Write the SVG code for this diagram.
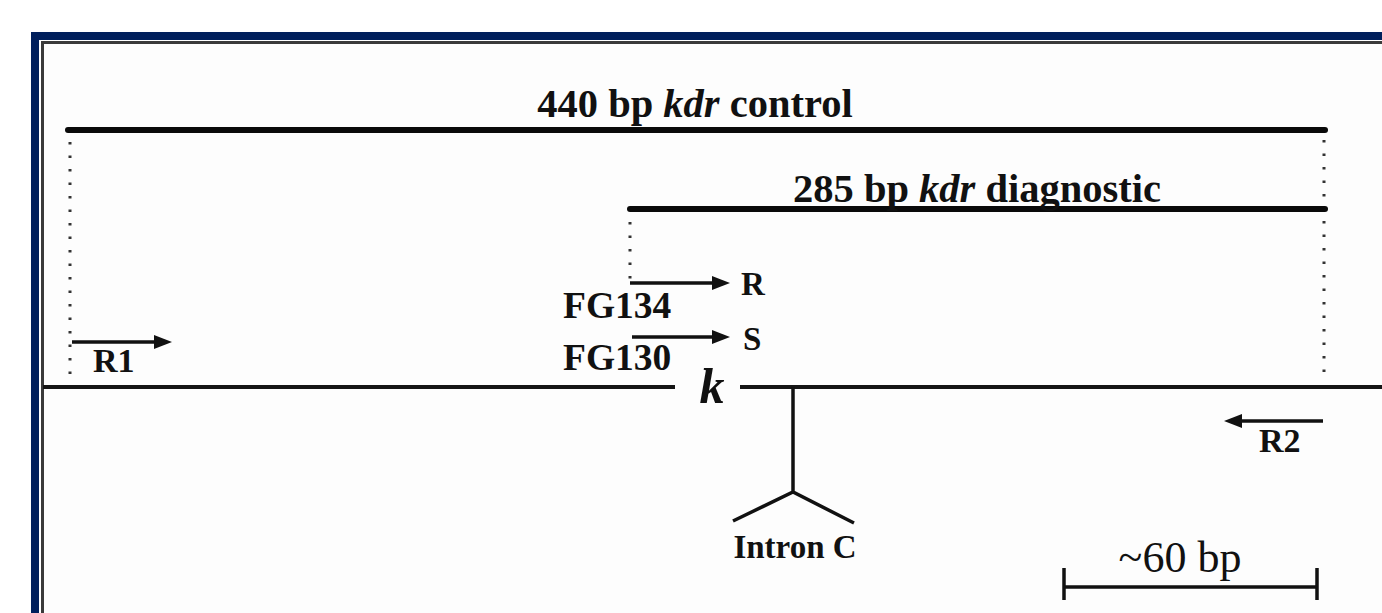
<svg xmlns="http://www.w3.org/2000/svg" width="1382" height="613" viewBox="0 0 1382 613">
<style>
.t{font-family:"Liberation Serif","Times New Roman",serif;font-weight:bold;fill:#111}
.r{font-family:"Liberation Serif","Times New Roman",serif;fill:#111}
.bar{stroke:#0a0a0a;stroke-width:6;stroke-linecap:round;fill:none}
.ln{stroke:#151515;stroke-width:4;fill:none}
.dot{stroke:#333;stroke-width:3;stroke-dasharray:2.5 11;fill:none}
.ar{stroke:#111;stroke-width:3.5;fill:none}
</style>
<defs>
<marker id="ah" markerUnits="userSpaceOnUse" markerWidth="20" markerHeight="16" refX="2" refY="8" orient="auto">
<path d="M0,1 L18,8 L0,15 Z" fill="#111"/>
</marker>
</defs>
<rect x="0" y="0" width="1382" height="613" fill="#ffffff"/>
<g id="frame">
<rect x="31" y="32" width="1360" height="600" fill="#001f5c"/>
<rect x="39" y="40" width="1350" height="590" fill="#ffffff"/>
<rect x="42.5" y="42.5" width="1350" height="590" fill="#fdfdfd" stroke="#3a3a3a" stroke-width="3"/>
</g>
<g id="connectors">
<line class="dot" x1="70" y1="142" x2="70" y2="382"/>
<line class="dot" x1="1324" y1="140" x2="1324" y2="378"/>
<line class="dot" x1="630" y1="222" x2="630" y2="280"/>
<line class="ar" x1="630" y1="283" x2="714" y2="283" marker-end="url(#ah)"/>
<line class="ar" x1="632" y1="337" x2="714" y2="337" marker-end="url(#ah)"/>
<line class="ar" x1="72" y1="342" x2="156" y2="342" marker-end="url(#ah)"/>
<line class="ar" x1="1323" y1="421" x2="1240" y2="421" marker-end="url(#ah)"/>
</g>
<g id="control">
<line class="bar" x1="68" y1="130" x2="1325" y2="130"/>
<text class="t" x="695" y="117" font-size="40.5" text-anchor="middle">440 bp <tspan font-style="italic">kdr</tspan> control</text>
</g>
<g id="diagnostic">
<line class="bar" x1="630" y1="209" x2="1325" y2="209"/>
<text class="t" x="977" y="202" font-size="40.5" text-anchor="middle">285 bp <tspan font-style="italic">kdr</tspan> diagnostic</text>
</g>
<g id="gene">
<line class="ln" x1="43" y1="387" x2="675" y2="387"/>
<line class="ln" x1="740" y1="387" x2="1382" y2="387"/>
<text class="t" x="712" y="403" font-size="50" font-style="italic" text-anchor="middle">k</text>
</g>
<g id="primer-R">
<text class="t" x="741" y="295" font-size="33">R</text>
<text class="t" x="563" y="318" font-size="37.5">FG134</text>
</g>
<g id="primer-S">
<text class="t" x="743" y="350" font-size="33">S</text>
<text class="t" x="563" y="370" font-size="37.5">FG130</text>
</g>
<g id="primer-R1">
<text class="t" x="93" y="372" font-size="34">R1</text>
</g>
<g id="primer-R2">
<text class="t" x="1259" y="452" font-size="34">R2</text>
</g>
<g id="intron">
<path d="M793,387 L793,492 M733,521 L793,492 L854,523" stroke="#111" stroke-width="3.5" fill="none"/>
<text class="t" x="795" y="558" font-size="33" text-anchor="middle">Intron C</text>
</g>
<g id="scale">
<path d="M1063,587 L1317,587 M1064,568 L1064,600 M1317,568 L1317,600" stroke="#111" stroke-width="3.5" fill="none"/>
<text class="r" x="1180" y="572" font-size="44" text-anchor="middle">~60 bp</text>
</g>
</svg>
